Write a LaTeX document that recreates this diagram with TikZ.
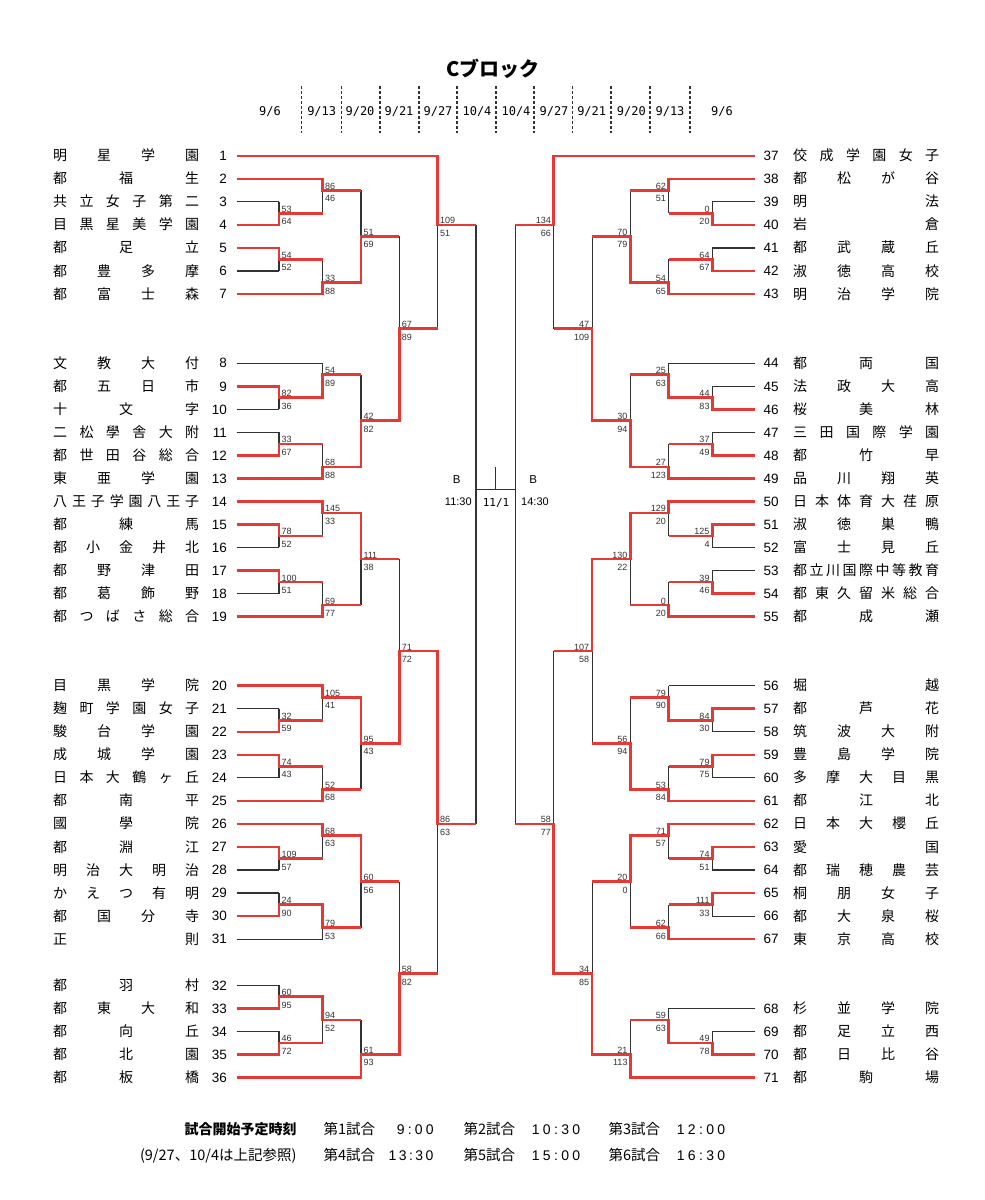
\documentclass[tikz,border=0pt]{standalone}
\usepackage{fontspec}
\setmainfont{Liberation Sans}
\newfontfamily\jp{Noto Sans CJK JP}
\newfontfamily\mono{DejaVu Sans Mono}
\pgfdeclarelayer{back}
\pgfdeclarelayer{bg}
\pgfsetlayers{back,bg,main}
\definecolor{rd}{RGB}{229,57,53}
\definecolor{bk}{RGB}{50,50,50}
\tikzset{
 blk/.style={draw=bk,line width=1.2pt},
 redln/.style={draw=rd,line width=2.6pt,line join=miter},
 sc/.style={font=\fontsize{9}{10}\selectfont,inner sep=0pt,text=bk},
 scL/.style={sc,anchor=base west},
 scR/.style={sc,anchor=base east},
 num/.style={font=\fontsize{13.5}{14}\selectfont,inner sep=0pt},
 nm/.style={font=\jp\fontsize{14}{15}\selectfont,inner sep=0pt},
 dt/.style={font=\mono\fontsize{12}{13}\selectfont,inner sep=0pt,anchor=base},
 ft/.style={font=\jp\fontsize{14.5}{15}\selectfont,inner sep=0pt},
 dsh/.style={draw=bk,line width=1.1pt,dash pattern=on 3pt off 2pt},
}
\def\xLa{236.7}\def\xLb{279}\def\xLc{322.7}\def\xLd{361}\def\xLe{399.3}\def\xLf{437.7}\def\xLg{476}
\def\xRa{754.7}\def\xRb{712.4}\def\xRc{668.7}\def\xRd{630.4}\def\xRe{592.1}\def\xRf{553.7}\def\xRg{515.4}
\newcommand\spr[1]{\makebox[146pt][s]{\sprA#1\relax}}
\newcommand\sprw[2]{\makebox[#1][s]{\sprA#2\relax}}
\def\sprA#1{#1\sprB}
\def\sprB#1{\ifx\relax#1\else\hfill#1\expandafter\sprB\fi}
\newcommand\team[6]{%
 \if L#1\def\xa{\xLa}\else\def\xa{\xRa}\fi
 \if r#6\draw[redln] (\xa,{ry(#2)}) -- (#5,{ry(#2)});%
 \else\begin{pgfonlayer}{bg}\draw[blk] (\xa,{ry(#2)}) -- (#5,{ry(#2)});\end{pgfonlayer}\fi
 \if L#1%
  \node[num,anchor=base east] (n#3) at (227,{ry(#2)+4.8}) {#3};%
  \node[nm,anchor=base west] (t#3) at (53,{ry(#2)+5}) {\spr{#4}};%
 \else
  \node[num,anchor=base west] (n#3) at (763.3,{ry(#2)+4.8}) {#3};%
  \node[nm,anchor=base west] (t#3) at (793,{ry(#2)+5}) {\spr{#4}};%
 \fi}
\newcommand\game[9]{%
 \begin{pgfonlayer}{bg}\draw[blk] (#2,{ry(#4)}) -- (#2,{ry(#5)});\end{pgfonlayer}%
 \if t#7\def\rin{#4}\else\def\rin{#5}\fi
 \if L#1\def\xin{#2-3}\def\xs{#2+2.3}\else\def\xin{#2+3}\def\xs{#2-2.7}\fi
 \draw[redln] ({\xin},{ry(\rin)}) -- (#2,{ry(\rin)}) -- (#2,{ry(#6)}) -- (#3,{ry(#6)});
 \node[sc#1] at ({\xs},{ry(#6)-1}) {#8};
 \node[sc#1] at ({\xs},{ry(#6)+11.5}) {#9};
}
\begin{document}
\begin{tikzpicture}[x=1pt,y=-1pt,declare function={ry(\myr)=155.8+23.04*\myr;}]
\begin{pgfonlayer}{back}
\fill[white] (0,0) rectangle (985,1200);
\end{pgfonlayer}
\useasboundingbox (0,0) rectangle (985,1200);
% title and dates
\node[font=\jp\bfseries\fontsize{20}{22}\selectfont,inner sep=0pt,anchor=base] (title) at (493.3,76.5) {Cブロック};
\foreach \x/\d [count=\i] in {270/9\slash 6,321.7/9\slash 13,360/9\slash 20,399/9\slash 21,438/9\slash 27,477/10\slash 4,516/10\slash 4,554/9\slash 27,591.7/9\slash 21,631.3/9\slash 20,670/9\slash 13,722/9\slash 6}
  \node[dt] (d\i) at (\x,115) {\d};
\foreach \x in {301.7,341.7,380,419,457,496,534,572.7,611,650,690}
  \draw[dsh] (\x,86) -- (\x,133);
% teams left
\team{L}{0}{1}{明星学園}{\xLf}{r}
\team{L}{1}{2}{都福生}{\xLc}{r}
\team{L}{2}{3}{共立女子第二}{\xLb}{k}
\team{L}{3}{4}{目黒星美学園}{\xLb}{r}
\team{L}{4}{5}{都足立}{\xLb}{r}
\team{L}{5}{6}{都豊多摩}{\xLb}{k}
\team{L}{6}{7}{都富士森}{\xLc}{r}
\team{L}{9}{8}{文教大付}{\xLc}{k}
\team{L}{10}{9}{都五日市}{\xLb}{r}
\team{L}{11}{10}{十文字}{\xLb}{k}
\team{L}{12}{11}{二松學舎大附}{\xLb}{k}
\team{L}{13}{12}{都世田谷総合}{\xLb}{r}
\team{L}{14}{13}{東亜学園}{\xLc}{r}
\team{L}{15}{14}{八王子学園八王子}{\xLc}{r}
\team{L}{16}{15}{都練馬}{\xLb}{r}
\team{L}{17}{16}{都小金井北}{\xLb}{k}
\team{L}{18}{17}{都野津田}{\xLb}{r}
\team{L}{19}{18}{都葛飾野}{\xLb}{k}
\team{L}{20}{19}{都つばさ総合}{\xLc}{r}
\team{L}{23}{20}{目黒学院}{\xLc}{r}
\team{L}{24}{21}{麹町学園女子}{\xLb}{k}
\team{L}{25}{22}{駿台学園}{\xLb}{r}
\team{L}{26}{23}{成城学園}{\xLb}{r}
\team{L}{27}{24}{日本大鶴ヶ丘}{\xLb}{k}
\team{L}{28}{25}{都南平}{\xLc}{r}
\team{L}{29}{26}{國學院}{\xLc}{r}
\team{L}{30}{27}{都淵江}{\xLb}{r}
\team{L}{31}{28}{明治大明治}{\xLb}{k}
\team{L}{32}{29}{かえつ有明}{\xLb}{k}
\team{L}{33}{30}{都国分寺}{\xLb}{r}
\team{L}{34}{31}{正則}{\xLc}{k}
\team{L}{36}{32}{都羽村}{\xLb}{k}
\team{L}{37}{33}{都東大和}{\xLb}{r}
\team{L}{38}{34}{都向丘}{\xLb}{k}
\team{L}{39}{35}{都北園}{\xLb}{r}
\team{L}{40}{36}{都板橋}{\xLd}{r}
% teams right
\team{R}{0}{37}{佼成学園女子}{\xRf}{r}
\team{R}{1}{38}{都松が谷}{\xRc}{r}
\team{R}{2}{39}{明法}{\xRb}{k}
\team{R}{3}{40}{岩倉}{\xRb}{r}
\team{R}{4}{41}{都武蔵丘}{\xRb}{k}
\team{R}{5}{42}{淑徳高校}{\xRb}{r}
\team{R}{6}{43}{明治学院}{\xRc}{r}
\team{R}{9}{44}{都両国}{\xRc}{k}
\team{R}{10}{45}{法政大高}{\xRb}{k}
\team{R}{11}{46}{桜美林}{\xRb}{r}
\team{R}{12}{47}{三田国際学園}{\xRb}{k}
\team{R}{13}{48}{都竹早}{\xRb}{r}
\team{R}{14}{49}{品川翔英}{\xRc}{r}
\team{R}{15}{50}{日本体育大荏原}{\xRc}{r}
\team{R}{16}{51}{淑徳巣鴨}{\xRb}{r}
\team{R}{17}{52}{富士見丘}{\xRb}{k}
\team{R}{18}{53}{都立川国際中等教育}{\xRb}{k}
\team{R}{19}{54}{都東久留米総合}{\xRb}{r}
\team{R}{20}{55}{都成瀬}{\xRc}{r}
\team{R}{23}{56}{堀越}{\xRc}{k}
\team{R}{24}{57}{都芦花}{\xRb}{r}
\team{R}{25}{58}{筑波大附}{\xRb}{k}
\team{R}{26}{59}{豊島学院}{\xRb}{r}
\team{R}{27}{60}{多摩大目黒}{\xRb}{k}
\team{R}{28}{61}{都江北}{\xRc}{r}
\team{R}{29}{62}{日本大櫻丘}{\xRc}{r}
\team{R}{30}{63}{愛国}{\xRb}{r}
\team{R}{31}{64}{都瑞穂農芸}{\xRb}{k}
\team{R}{32}{65}{桐朋女子}{\xRb}{r}
\team{R}{33}{66}{都大泉桜}{\xRb}{k}
\team{R}{34}{67}{東京高校}{\xRc}{r}
\team{R}{37}{68}{杉並学院}{\xRc}{k}
\team{R}{38}{69}{都足立西}{\xRb}{k}
\team{R}{39}{70}{都日比谷}{\xRb}{r}
\team{R}{40}{71}{都駒場}{\xRd}{r}
% games left
\game{L}{\xLb}{\xLc}{2}{3}{2.5}{b}{53}{64}
\game{L}{\xLc}{\xLd}{1}{2.5}{1.5}{t}{86}{46}
\game{L}{\xLb}{\xLc}{4}{5}{4.5}{t}{54}{52}
\game{L}{\xLc}{\xLd}{4.5}{6}{5.5}{b}{33}{88}
\game{L}{\xLd}{\xLe}{1.5}{5.5}{3.5}{b}{51}{69}
\game{L}{\xLb}{\xLc}{10}{11}{10.5}{t}{82}{36}
\game{L}{\xLc}{\xLd}{9}{10.5}{9.5}{b}{54}{89}
\game{L}{\xLb}{\xLc}{12}{13}{12.5}{b}{33}{67}
\game{L}{\xLc}{\xLd}{12.5}{14}{13.5}{b}{68}{88}
\game{L}{\xLd}{\xLe}{9.5}{13.5}{11.5}{b}{42}{82}
\game{L}{\xLe}{\xLf}{3.5}{11.5}{7.5}{b}{67}{89}
\game{L}{\xLf}{\xLg}{0}{7.5}{3}{t}{109}{51}
\game{L}{\xLb}{\xLc}{16}{17}{16.5}{t}{78}{52}
\game{L}{\xLc}{\xLd}{15}{16.5}{15.5}{t}{145}{33}
\game{L}{\xLb}{\xLc}{18}{19}{18.5}{t}{100}{51}
\game{L}{\xLc}{\xLd}{18.5}{20}{19.5}{b}{69}{77}
\game{L}{\xLd}{\xLe}{15.5}{19.5}{17.5}{t}{111}{38}
\game{L}{\xLb}{\xLc}{24}{25}{24.5}{b}{32}{59}
\game{L}{\xLc}{\xLd}{23}{24.5}{23.5}{t}{105}{41}
\game{L}{\xLb}{\xLc}{26}{27}{26.5}{t}{74}{43}
\game{L}{\xLc}{\xLd}{26.5}{28}{27.5}{b}{52}{68}
\game{L}{\xLd}{\xLe}{23.5}{27.5}{25.5}{t}{95}{43}
\game{L}{\xLe}{\xLf}{17.5}{25.5}{21.5}{b}{71}{72}
\game{L}{\xLb}{\xLc}{30}{31}{30.5}{t}{109}{57}
\game{L}{\xLc}{\xLd}{29}{30.5}{29.5}{t}{68}{63}
\game{L}{\xLb}{\xLc}{32}{33}{32.5}{b}{24}{90}
\game{L}{\xLc}{\xLd}{32.5}{34}{33.5}{t}{79}{53}
\game{L}{\xLd}{\xLe}{29.5}{33.5}{31.5}{t}{60}{56}
\game{L}{\xLb}{\xLc}{36}{37}{36.5}{b}{60}{95}
\game{L}{\xLb}{\xLc}{38}{39}{38.5}{b}{46}{72}
\game{L}{\xLc}{\xLd}{36.5}{38.5}{37.5}{t}{94}{52}
\game{L}{\xLd}{\xLe}{37.5}{40}{39}{b}{61}{93}
\game{L}{\xLe}{\xLf}{31.5}{39}{35.5}{b}{58}{82}
\game{L}{\xLf}{\xLg}{21.5}{35.5}{29}{t}{86}{63}
% games right
\game{R}{\xRb}{\xRc}{2}{3}{2.5}{b}{0}{20}
\game{R}{\xRc}{\xRd}{1}{2.5}{1.5}{t}{62}{51}
\game{R}{\xRb}{\xRc}{4}{5}{4.5}{b}{64}{67}
\game{R}{\xRc}{\xRd}{4.5}{6}{5.5}{b}{54}{65}
\game{R}{\xRd}{\xRe}{1.5}{5.5}{3.5}{b}{70}{79}
\game{R}{\xRb}{\xRc}{10}{11}{10.5}{b}{44}{83}
\game{R}{\xRc}{\xRd}{9}{10.5}{9.5}{b}{25}{63}
\game{R}{\xRb}{\xRc}{12}{13}{12.5}{b}{37}{49}
\game{R}{\xRc}{\xRd}{12.5}{14}{13.5}{b}{27}{123}
\game{R}{\xRd}{\xRe}{9.5}{13.5}{11.5}{b}{30}{94}
\game{R}{\xRe}{\xRf}{3.5}{11.5}{7.5}{b}{47}{109}
\game{R}{\xRf}{\xRg}{0}{7.5}{3}{t}{134}{66}
\game{R}{\xRb}{\xRc}{16}{17}{16.5}{t}{125}{4}
\game{R}{\xRc}{\xRd}{15}{16.5}{15.5}{t}{129}{20}
\game{R}{\xRb}{\xRc}{18}{19}{18.5}{b}{39}{46}
\game{R}{\xRc}{\xRd}{18.5}{20}{19.5}{b}{0}{20}
\game{R}{\xRd}{\xRe}{15.5}{19.5}{17.5}{t}{130}{22}
\game{R}{\xRb}{\xRc}{24}{25}{24.5}{t}{84}{30}
\game{R}{\xRc}{\xRd}{23}{24.5}{23.5}{b}{79}{90}
\game{R}{\xRb}{\xRc}{26}{27}{26.5}{t}{79}{75}
\game{R}{\xRc}{\xRd}{26.5}{28}{27.5}{b}{53}{84}
\game{R}{\xRd}{\xRe}{23.5}{27.5}{25.5}{b}{56}{94}
\game{R}{\xRe}{\xRf}{17.5}{25.5}{21.5}{t}{107}{58}
\game{R}{\xRb}{\xRc}{30}{31}{30.5}{t}{74}{51}
\game{R}{\xRc}{\xRd}{29}{30.5}{29.5}{t}{71}{57}
\game{R}{\xRb}{\xRc}{32}{33}{32.5}{t}{111}{33}
\game{R}{\xRc}{\xRd}{32.5}{34}{33.5}{b}{62}{66}
\game{R}{\xRd}{\xRe}{29.5}{33.5}{31.5}{t}{20}{0}
\game{R}{\xRb}{\xRc}{38}{39}{38.5}{b}{49}{78}
\game{R}{\xRc}{\xRd}{37}{38.5}{37.5}{b}{59}{63}
\game{R}{\xRd}{\xRe}{37.5}{40}{39}{b}{21}{113}
\game{R}{\xRe}{\xRf}{31.5}{39}{35.5}{b}{34}{85}
\game{R}{\xRf}{\xRg}{21.5}{35.5}{29}{b}{58}{77}
% final
\begin{pgfonlayer}{bg}
\draw[blk] (\xLg,{ry(3)}) -- (\xLg,{ry(29)});
\draw[blk] (\xRg,{ry(3)}) -- (\xRg,{ry(29)});
\draw[blk] (\xLg,{ry(14.5)}) -- (\xRg,{ry(14.5)});
\draw[blk] (495.7,{ry(13.5)}) -- (495.7,{ry(14.5)});
\end{pgfonlayer}
\node[font=\fontsize{11.5}{12}\selectfont,inner sep=0pt,anchor=base] (bl) at (456.7,483) {B};
\node[font=\fontsize{11}{12}\selectfont,inner sep=0pt,anchor=base] (tl) at (458.3,505.7) {11:30};
\node[font=\mono\fontsize{11}{12}\selectfont,inner sep=0pt,anchor=base] (fd) at (496,506) {11/1};
\node[font=\fontsize{11.5}{12}\selectfont,inner sep=0pt,anchor=base] (br) at (533.3,483) {B};
\node[font=\fontsize{11}{12}\selectfont,inner sep=0pt,anchor=base] (tr) at (535,505.7) {14:30};
% footer
\node[font=\jp\bfseries\fontsize{14}{15}\selectfont,inner sep=0pt,anchor=base east] (f0) at (296.7,1134) {試合開始予定時刻};
\node[ft,anchor=base east] (f1) at (296.7,1160) {(9/27、10/4は上記参照)};
\node[ft,anchor=base west] (g1) at (323.3,1134) {第1試合};
\node[ft,anchor=base west] (g2) at (463.3,1134) {第2試合};
\node[ft,anchor=base west] (g3) at (608.3,1134) {第3試合};
\node[ft,anchor=base west] (g4) at (323.3,1160) {第4試合};
\node[ft,anchor=base west] (g5) at (463.3,1160) {第5試合};
\node[ft,anchor=base west] (g6) at (608.3,1160) {第6試合};
\tikzset{tm/.style={font=\fontsize{14}{15}\selectfont,inner sep=0pt,anchor=base west}}
\node[tm] (h1) at (396.7,1134) {\sprw{36.7pt}{9:00}};
\node[tm] (h2) at (531.7,1134) {\sprw{48.3pt}{10:30}};
\node[tm] (h3) at (676.7,1134) {\sprw{48.3pt}{12:00}};
\node[tm] (h4) at (388.3,1160) {\sprw{45pt}{13:30}};
\node[tm] (h5) at (531.7,1160) {\sprw{48.3pt}{15:00}};
\node[tm] (h6) at (676.7,1160) {\sprw{48.3pt}{16:30}};
\end{tikzpicture}
\end{document}
